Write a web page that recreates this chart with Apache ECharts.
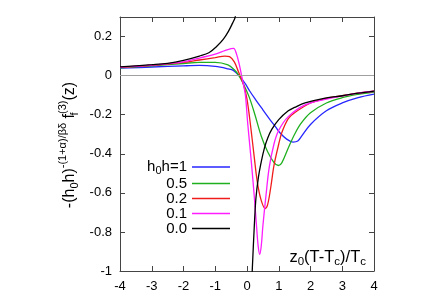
<!DOCTYPE html>
<html><head><meta charset="utf-8">
<script src="https://cdn.jsdelivr.net/npm/echarts@6/dist/echarts.min.js"></script>
<style>html,body{margin:0;padding:0;background:#fff}#c{width:428px;height:300px}</style>
</head><body><div id="c"></div>
<script>
var xTicks = [-4,-3,-2,-1,0,1,2,3,4];
var yTicks = [-1,-0.8,-0.6,-0.4,-0.2,0,0.2];
var names = ['h0h=1','0.5','0.2','0.1','0.0'];
var colors = ['#2626ff','#1fb01f','#f01c1c','#ff1cff','#000000'];

var xH1 = [-4,-3,-2,-1.5,-1,-0.6,-0.43,-0.22,-0.06,0.09,0.28,0.5,0.7,0.9,1.05,1.25,1.45,1.6,1.72,2.0,2.5,3,3.5,4];
var yH1 = [0.038,0.044,0.05,0.052,0.047,0.035,0.027,-0.005,-0.04,-0.08,-0.125,-0.175,-0.22,-0.262,-0.295,-0.325,-0.34,-0.335,-0.31,-0.25,-0.18,-0.14,-0.113,-0.095];

var xH05 = [-4,-3,-2,-1.5,-1,-0.6,-0.4,-0.27,-0.12,0.07,0.25,0.45,0.65,0.85,0.99,1.1,1.3,1.5,1.7,2.0,2.5,3,3.5,4];
var yH05 = [0.04,0.05,0.062,0.068,0.068,0.055,0.03,0.004,-0.04,-0.11,-0.2,-0.31,-0.39,-0.445,-0.46,-0.445,-0.37,-0.3,-0.245,-0.19,-0.14,-0.113,-0.096,-0.084];

var xH02 = [-4,-3,-2,-1.5,-1,-0.7,-0.55,-0.4,-0.27,-0.12,0.0,0.13,0.23,0.33,0.45,0.57,0.65,0.75,0.85,1.0,1.1,1.3,1.5,2.0,2.5,3,3.5,4];
var yH02 = [0.042,0.053,0.068,0.08,0.092,0.1,0.097,0.07,0.02,-0.04,-0.12,-0.28,-0.42,-0.55,-0.64,-0.68,-0.66,-0.57,-0.46,-0.35,-0.29,-0.22,-0.19,-0.14,-0.117,-0.103,-0.09,-0.08];

var xH01 = [-4,-3,-2,-1.5,-1,-0.7,-0.5,-0.42,-0.33,-0.24,-0.17,-0.12,-0.05,0.02,0.13,0.23,0.3,0.35,0.4,0.45,0.5,0.6,0.7,0.85,1.0,1.3,1.83,2.5,3,3.5,4];
var yH01 = [0.043,0.054,0.07,0.09,0.11,0.128,0.138,0.139,0.11,0.055,0.0,-0.04,-0.1,-0.24,-0.43,-0.62,-0.77,-0.87,-0.915,-0.87,-0.77,-0.61,-0.47,-0.35,-0.28,-0.21,-0.15,-0.12,-0.104,-0.09,-0.08];

var xH0L = [-4,-3,-2.5,-2,-1.5,-1.2,-0.95,-0.75,-0.59,-0.45,-0.38,-0.3];
var yH0L = [0.045,0.056,0.063,0.078,0.1,0.117,0.15,0.185,0.225,0.27,0.295,0.36];
var xH0R = [0.14,0.17,0.23,0.28,0.36,0.45,0.55,0.65,0.78,1.0,1.3,1.5,1.83,2.46,3,3.5,4];
var yH0R = [-1.1,-0.98,-0.77,-0.63,-0.52,-0.44,-0.37,-0.32,-0.275,-0.225,-0.18,-0.163,-0.14,-0.115,-0.103,-0.09,-0.079];

function pairs(xs, ys){ return xs.map(function(x,i){ return [x, ys[i]]; }); }

var FONT = '"Liberation Sans", Arial, sans-serif';
var chart = echarts.init(document.getElementById('c'), null, {renderer:'canvas'});

function lineSeries(name, data, color){
  return {type:'line', name:name, data:data, showSymbol:false, smooth:0.35, z:3,
    lineStyle:{color:color, width:1.3}, itemStyle:{color:color}, clip:true, animation:false};
}

var axisCommon = {
  type:'value', axisLine:{show:true, onZero:false, lineStyle:{color:'#444', width:1}},
  axisTick:{show:true, inside:true, length:5, lineStyle:{color:'#444'}},
  splitLine:{show:false}
};

var option = {
  animation:false,
  grid:{left:120, right:54, top:17, bottom:29},
  xAxis:[
    Object.assign({}, axisCommon, {min:xTicks[0], max:xTicks[xTicks.length-1], interval:1, position:'bottom',
      axisLabel:{color:'#000', fontSize:13, fontFamily:FONT, margin:9}}),
    Object.assign({}, axisCommon, {min:xTicks[0], max:xTicks[xTicks.length-1], interval:1, position:'top',
      axisLabel:{show:false}})
  ],
  yAxis:[
    Object.assign({}, axisCommon, {min:yTicks[0], max:0.3, interval:0.2, position:'left',
      axisLabel:{color:'#000', fontSize:13, fontFamily:FONT, margin:8, showMaxLabel:false}}),
    Object.assign({}, axisCommon, {min:yTicks[0], max:0.3, interval:0.2, position:'right',
      axisLabel:{show:false}})
  ],
  legend:{
    orient:'vertical', right:193, top:153, align:'right', icon:'rect', itemWidth:38, itemHeight:1.5,
    itemGap:0, data:names,
    textStyle:{color:'#000', fontSize:15, fontFamily:FONT, lineHeight:14.3,
      rich:{n:{fontSize:15, fontFamily:FONT, color:'#000', lineHeight:14.3},
            s:{fontSize:11, fontFamily:FONT, color:'#000', lineHeight:8, padding:[7,0,0,0]}}},
    formatter:function(n){ return n==='h0h=1' ? '{n|h}{s|0}{n|h=1}' : n; }
  },
  graphic:[
    {type:'text', x:70, y:145, rotation:Math.PI/2, silent:true,
     style:{text:'{m|-(h}{sb|0}{m|h)}{sp|-(1+α)/βδ}{m| f}{sbz|f}{sp|(3)}{m|(z)}',
       align:'center', verticalAlign:'middle',
       rich:{
         m:{fontSize:16, fontFamily:FONT, fill:'#000', lineHeight:18},
         sb:{fontSize:11, fontFamily:FONT, fill:'#000', lineHeight:10, padding:[10,0,0,0]},
         sbz:{fontSize:11, fontFamily:FONT, fill:'#000', lineHeight:10, padding:[10,0,0,0], width:0},
         sp:{fontSize:11, fontFamily:FONT, fill:'#000', lineHeight:10, padding:[0,0,14,0]}
       }}},
    {type:'text', x:366, y:257, silent:true,
     style:{text:'{m|z}{sb|0}{m|(T-T}{sb|c}{m|)/T}{sb|c}', align:'right', verticalAlign:'middle',
       rich:{
         m:{fontSize:16.5, fontFamily:FONT, fill:'#000', lineHeight:18},
         sb:{fontSize:11.5, fontFamily:FONT, fill:'#000', lineHeight:10, padding:[10,0,0,0]}
       }}}
  ],
  series:[
    {type:'line', name:'zero', data:[], z:1, silent:true,
     markLine:{silent:true, symbol:'none', animation:false, label:{show:false},
       lineStyle:{color:'#a0a0a0', width:1, type:'solid'}, data:[{yAxis:0}]}},
    lineSeries(names[0], pairs(xH1,yH1), colors[0]),
    lineSeries(names[1], pairs(xH05,yH05), colors[1]),
    lineSeries(names[2], pairs(xH02,yH02), colors[2]),
    lineSeries(names[3], pairs(xH01,yH01), colors[3]),
    lineSeries(names[4], pairs(xH0L,yH0L), colors[4]),
    lineSeries(names[4], pairs(xH0R,yH0R), colors[4])
  ]
};
chart.setOption(option);
</script></body></html>
